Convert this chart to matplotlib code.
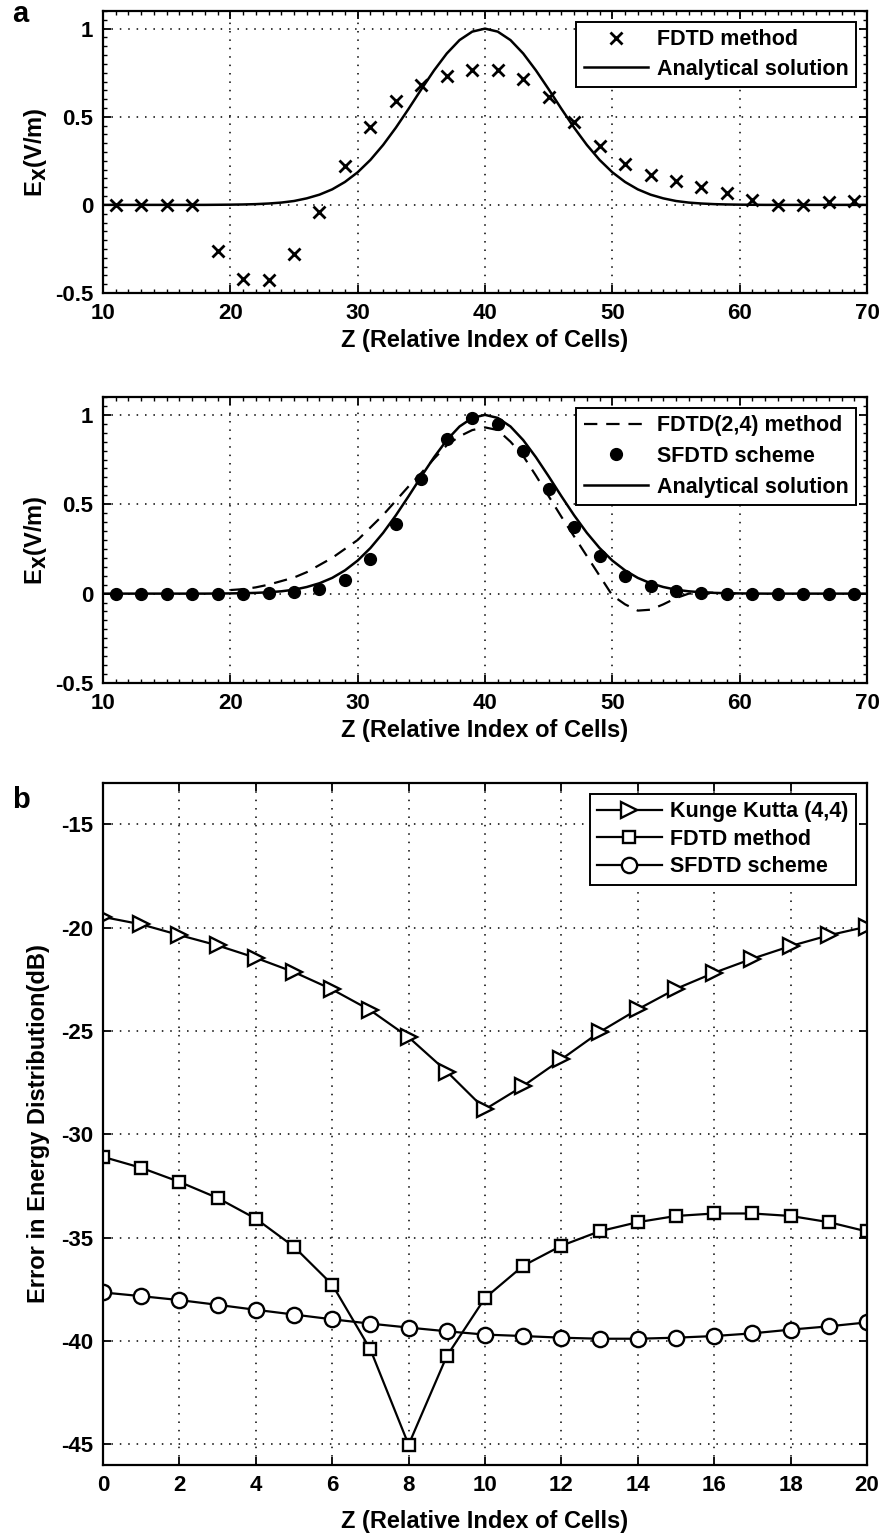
import matplotlib
matplotlib.use("Agg")
import matplotlib.pyplot as plt
from matplotlib.ticker import MultipleLocator

plt.rcParams['font.family'] = ['Liberation Sans', 'DejaVu Sans']
plt.rcParams['font.weight'] = 'bold'
plt.rcParams['font.size'] = 16
plt.rcParams['axes.linewidth'] = 1.6
plt.rcParams['axes.unicode_minus'] = False
plt.rcParams['mathtext.default'] = 'bf'

# --- panel a: field distribution ---
z_odd = list(range(11, 70, 2))
fdtd_top = [0, 0, 0, 0, -0.26, -0.42, -0.425, -0.28, -0.04, 0.223, 0.442, 0.59,
            0.678, 0.73, 0.765, 0.765, 0.714, 0.61, 0.468, 0.333, 0.232, 0.17,
            0.136, 0.102, 0.07, 0.028, 0.002, 0.0, 0.017, 0.02]

z_ana = list(range(10, 71))
analytical = [0, 0, 0, 0, 0, 0, 0, 0, 0, 0.0006,                       # 10-19
              0.0012, 0.0023, 0.0042, 0.0077, 0.013, 0.022, 0.037, 0.058, 0.088, 0.130,  # 20-29
              0.185, 0.255, 0.340, 0.438, 0.545, 0.656, 0.763, 0.859, 0.935, 0.983,     # 30-39
              1.0,                                                    # 40
              0.983, 0.935, 0.859, 0.763, 0.656, 0.545, 0.438, 0.340, 0.255, 0.185,     # 41-50
              0.130, 0.088, 0.058, 0.037, 0.022, 0.013, 0.0077, 0.0042, 0.0023, 0.0012,  # 51-60
              0.0006, 0, 0, 0, 0, 0, 0, 0, 0, 0]                      # 61-70

z_24 = list(range(20, 61))
fdtd24 = [0.02, 0.025, 0.035, 0.05, 0.07, 0.09, 0.12, 0.16, 0.2, 0.25, 0.30, 0.37,
          0.44, 0.52, 0.60, 0.675, 0.755, 0.83, 0.88, 0.915, 0.93, 0.915, 0.85,
          0.77, 0.66, 0.545, 0.43, 0.32, 0.21, 0.10, -0.01, -0.06, -0.095, -0.09,
          -0.06, -0.025, 0.0, 0.005, 0.005, 0.0, 0.0]

sfdtd_top = [0, 0, 0, 0, 0, 0, 0.004, 0.01, 0.028, 0.076, 0.195, 0.392, 0.641,
             0.864, 0.98, 0.95, 0.80, 0.585, 0.374, 0.208, 0.099, 0.043, 0.013,
             0.003, 0, 0, 0, 0, 0, 0]

# --- panel b: energy error ---
z_b = list(range(0, 21))
rk44 = [-19.48, -19.84, -20.36, -20.86, -21.46, -22.15, -22.99, -24.0, -25.3,
        -26.96, -28.79, -27.66, -26.37, -25.05, -23.95, -22.96, -22.18, -21.5,
        -20.89, -20.37, -19.95]
fdtd_b = [-31.09, -31.62, -32.3, -33.08, -34.08, -35.44, -37.27, -40.41, -45.02,
          -40.73, -37.92, -36.36, -35.39, -34.69, -34.25, -33.95, -33.83, -33.83,
          -33.95, -34.25, -34.7]
sfdtd_b = [-37.65, -37.83, -38.02, -38.25, -38.49, -38.72, -38.95, -39.16, -39.35,
           -39.53, -39.69, -39.76, -39.84, -39.89, -39.89, -39.84, -39.76, -39.63,
           -39.45, -39.29, -39.1]

W, H = 885, 1536
fig = plt.figure(figsize=(W / 100, H / 100), dpi=100)

def box(top, bottom):
    l, r = 103 / W, 867 / W
    return [l, 1 - bottom / H, r - l, (bottom - top) / H]

def style(ax, minor=True):
    ax.tick_params(direction='in', which='both', top=True, right=True, width=1.3,
                   labelsize=16, pad=7)
    ax.tick_params(which='major', length=6)
    ax.tick_params(which='minor', length=3, width=1)
    ax.grid(True, which='major', linestyle=(0, (1, 4.5)), color='black', linewidth=1.1)
    if minor:
        ax.xaxis.set_minor_locator(MultipleLocator(1))
        ax.yaxis.set_minor_locator(MultipleLocator(0.05))

def legend(ax, spacing):
    leg = ax.legend(loc='upper right', fancybox=False, edgecolor='black', framealpha=1,
                    fontsize=15.5, borderaxespad=0.5, handlelength=3.0,
                    handletextpad=0.4, labelspacing=spacing, borderpad=0.35)
    leg.get_frame().set_linewidth(1.4)

def field_axes(ax):
    ax.set_xlim(10, 70)
    ax.set_ylim(-0.5, 1.1)
    ax.set_xticks([10, 20, 30, 40, 50, 60, 70])
    ax.set_yticks([-0.5, 0, 0.5, 1])
    ax.set_yticklabels(['-0.5', '0', '0.5', '1'])
    ax.set_xlabel('Z (Relative Index of Cells)', fontsize=17, fontweight='bold',
                  labelpad=4)
    ax.set_ylabel(r'E$_\mathbf{X}$(V/m)', fontsize=17, fontweight='bold', labelpad=4)
    style(ax)

ax1 = fig.add_axes(box(11, 293))
ax1.plot(z_odd, fdtd_top, 'x', color='black', markersize=8, markeredgewidth=2,
         label='FDTD method')
ax1.plot(z_ana, analytical, '-', color='black', linewidth=1.8, label='Analytical solution')
field_axes(ax1)
legend(ax1, 0.4)

ax2 = fig.add_axes(box(397, 683))
ax2.plot(z_24, fdtd24, '--', color='black', linewidth=1.6, dashes=(6, 4),
         label='FDTD(2,4) method')
ax2.plot(z_odd, sfdtd_top, 'o', color='black', markersize=8.5, label='SFDTD scheme')
ax2.plot(z_ana, analytical, '-', color='black', linewidth=1.8, label='Analytical solution')
field_axes(ax2)
legend(ax2, 0.45)

ax3 = fig.add_axes(box(783, 1465))
ax3.plot(z_b, rk44, '->', color='black', markerfacecolor='white', markersize=12,
         markeredgewidth=1.7, linewidth=1.6, label='Kunge Kutta (4,4)')
ax3.plot(z_b, fdtd_b, '-s', color='black', markerfacecolor='white', markersize=9,
         markeredgewidth=1.7, linewidth=1.6, label='FDTD method')
ax3.plot(z_b, sfdtd_b, '-o', color='black', markerfacecolor='white', markersize=11,
         markeredgewidth=1.7, linewidth=1.6, label='SFDTD scheme')
ax3.set_xlim(0, 20)
ax3.set_ylim(-46, -13)
ax3.set_xticks(range(0, 21, 2))
ax3.set_yticks([-45, -40, -35, -30, -25, -20, -15])
ax3.set_xlabel('Z (Relative Index of Cells)', fontsize=17, fontweight='bold',
               labelpad=10)
ax3.set_ylabel('Error in Energy Distribution(dB)', fontsize=17, fontweight='bold',
               labelpad=8)
style(ax3, minor=False)
legend(ax3, 0.3)

fig.text(12 / W, 1 - 22 / H, 'a', fontsize=21, fontweight='bold')
fig.text(12 / W, 1 - 808 / H, 'b', fontsize=21, fontweight='bold')

fig.savefig('out.png', dpi=100)
